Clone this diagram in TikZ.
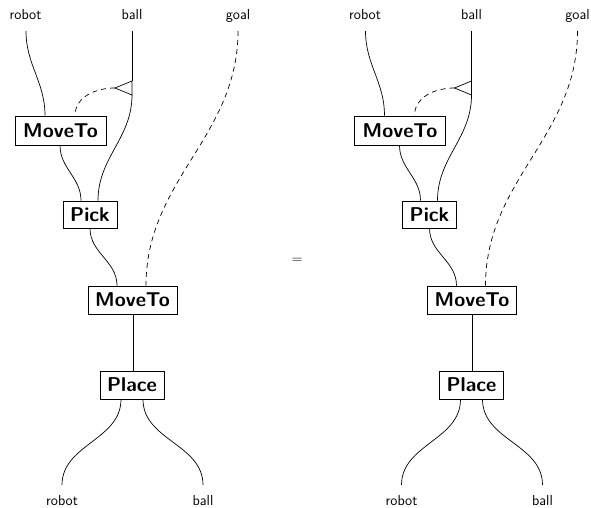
\documentclass[tikz,border=0pt]{standalone}
\usetikzlibrary{calc}
\tikzset{
  box/.style={draw, line width=0.7pt, inner sep=0pt, font=\sffamily\bfseries\fontsize{20}{22}\selectfont},
  lbl/.style={font=\sffamily\fontsize{14.5}{16}\selectfont, inner sep=0pt, anchor=base},
  wire/.style={line width=0.7pt},
  dwire/.style={line width=0.7pt, dash pattern=on 5pt off 4pt},
}
\newcommand\halfdiag[1]{%
  % labels
  \node[lbl] (#1robot) at (25.5,20) {robot};
  \node[lbl] (#1ball) at (132,20) {ball};
  \node[lbl] (#1goal) at (238,20) {goal};
  \node[lbl] (#1orobot) at (62,505.5) {robot};
  \node[lbl] (#1oball) at (203,505.5) {ball};
  % boxes
  \node[box, minimum width=91pt, minimum height=29pt] (#1mA) at (60.5,130.5) {MoveTo};
  \node[box, minimum width=54pt, minimum height=27pt] (#1pick) at (90,214.5) {Pick};
  \node[box, minimum width=89pt, minimum height=28pt] (#1mB) at (132.5,300) {MoveTo};
  \node[box, minimum width=64pt, minimum height=28pt] (#1place) at (132,385) {Place};
  % wire ends
  \coordinate (#1rt) at (26,31);
  \coordinate (#1bt) at (132,31);
  \coordinate (#1gt) at (238,31);
  \coordinate (#1rb) at (62,485);
  \coordinate (#1bb) at (203,485);
  % copy triangle
  \coordinate (#1tt) at (132,81);
  \coordinate (#1tb) at (132,95);
  \coordinate (#1ta) at (115,88);
  \draw[wire] (#1tt) -- (#1ta) -- (#1tb) -- cycle;
  % wires
  \draw[wire] (#1rt) to[out=-90,in=90] ([xshift=-15.5pt]#1mA.north);
  \draw[wire] (#1bt) -- (#1tt);
  \draw[dwire] (#1ta) to[out=180,in=90] ([xshift=14.5pt]#1mA.north);
  \draw[wire] (#1tb) to[out=-90,in=90] ([xshift=8pt]#1pick.north);
  \draw[wire] ([xshift=-0.5pt]#1mA.south) to[out=-90,in=90] ([xshift=-9pt]#1pick.north);
  \draw[wire] (#1pick.south) to[out=-90,in=90] ([xshift=-15.5pt]#1mB.north);
  \draw[dwire] (#1gt) to[out=-90,in=90] ([xshift=13.5pt]#1mB.north);
  \draw[wire] ([xshift=0.5pt]#1mB.south) -- ([xshift=1pt]#1place.north);
  \draw[wire] ([xshift=-11pt]#1place.south) to[out=-90,in=90] (#1rb);
  \draw[wire] ([xshift=11pt]#1place.south) to[out=-90,in=90] (#1bb);
}
\begin{document}
\begin{tikzpicture}[x=1pt,y=-1pt]
  \useasboundingbox (0,0) rectangle (591,508);
  \begin{scope}
    \halfdiag{L}
  \end{scope}
  \begin{scope}[xshift=339.5pt]
    \halfdiag{R}
  \end{scope}
  \node[font=\fontsize{14}{16}\selectfont, inner sep=0pt] (eq) at (297,261) {$=$};
\end{tikzpicture}
\end{document}
